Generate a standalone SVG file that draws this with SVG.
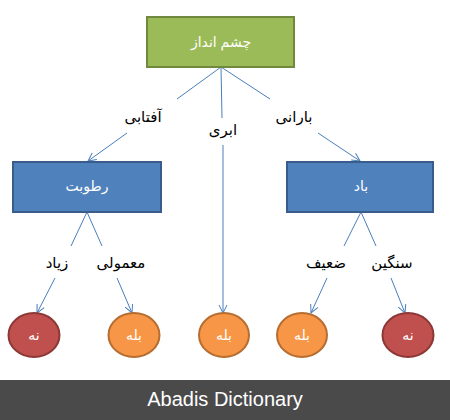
<svg xmlns="http://www.w3.org/2000/svg" width="450" height="420" viewBox="0 0 450 420">
<defs>
<marker id="arr" markerWidth="10" markerHeight="10" refX="9" refY="5" orient="auto" markerUnits="userSpaceOnUse">
<path d="M1,1 L9,5 L1,9" fill="none" stroke="#4A7EBB" stroke-width="1"/>
</marker>
</defs>
<style>
.ln{stroke:#4A7EBB;stroke-width:1;fill:none}
.green{fill:#9BBB59;stroke:#71893F;stroke-width:2}
.blue{fill:#4F81BD;stroke:#385D8A;stroke-width:2}
.red{fill:#C0504D;stroke:#8C3836;stroke-width:2}
.orange{fill:#F79646;stroke:#B66D31;stroke-width:2}
.wt{fill:#ffffff;font-family:"Liberation Sans","DejaVu Sans",sans-serif;font-size:14px;text-anchor:middle}
.bt{fill:#000000;font-family:"Liberation Sans","DejaVu Sans",sans-serif;font-size:15px;text-anchor:middle}
</style>
<rect width="450" height="420" fill="#ffffff"/>
<g id="connectors">
<path class="ln" d="M221,67 L177,99"/>
<path class="ln" d="M127,133 L88,161" marker-end="url(#arr)"/>
<path class="ln" d="M221,67 L222,118"/>
<path class="ln" d="M223,145 L223,313" marker-end="url(#arr)"/>
<path class="ln" d="M221,67 L270,99"/>
<path class="ln" d="M318,133 L360,161" marker-end="url(#arr)"/>
<path class="ln" d="M87,212 L71,246"/>
<path class="ln" d="M87,212 L102,246"/>
<path class="ln" d="M55,278 L37,313" marker-end="url(#arr)"/>
<path class="ln" d="M117,278 L132,313" marker-end="url(#arr)"/>
<path class="ln" d="M361,212 L344,246"/>
<path class="ln" d="M361,212 L376,246"/>
<path class="ln" d="M327,278 L311,313" marker-end="url(#arr)"/>
<path class="ln" d="M391,278 L405,313" marker-end="url(#arr)"/>
<text class="bt" x="143" y="122">آفتابی</text>
<text class="bt" x="223" y="135">ابری</text>
<text class="bt" x="294" y="122">بارانی</text>
<text class="bt" x="57" y="268">زیاد</text>
<text class="bt" x="121" y="268">معمولی</text>
<text class="bt" x="326" y="268">ضعیف</text>
<text class="bt" x="392" y="268">سنگین</text>
</g>
<g id="root"><rect class="green" x="147" y="17" width="147" height="50"/><text class="wt" x="221" y="47">چشم انداز</text></g>
<g id="humidity"><rect class="blue" x="13" y="162" width="148" height="50"/><text class="wt" x="87" y="191">رطوبت</text></g>
<g id="wind"><rect class="blue" x="287" y="162" width="146" height="50"/><text class="wt" x="361" y="191">باد</text></g>
<g id="n1"><ellipse class="red" cx="34" cy="335" rx="25.5" ry="22"/><text class="wt" x="34" y="340">نه</text></g>
<g id="n2"><ellipse class="orange" cx="134" cy="335" rx="25.5" ry="22"/><text class="wt" x="134" y="340">بله</text></g>
<g id="n3"><ellipse class="orange" cx="224" cy="335" rx="25" ry="22"/><text class="wt" x="224" y="340">بله</text></g>
<g id="n4"><ellipse class="orange" cx="302" cy="335" rx="25" ry="22"/><text class="wt" x="302" y="340">بله</text></g>
<g id="n5"><ellipse class="red" cx="408" cy="335" rx="25.5" ry="22"/><text class="wt" x="408" y="340">نه</text></g>
<rect x="0" y="380" width="450" height="40" fill="#4B4A4B"/>
<text x="225" y="406" fill="#ffffff" font-family="'Liberation Sans',Arial,sans-serif" font-size="20" text-anchor="middle">Abadis Dictionary</text>
</svg>
